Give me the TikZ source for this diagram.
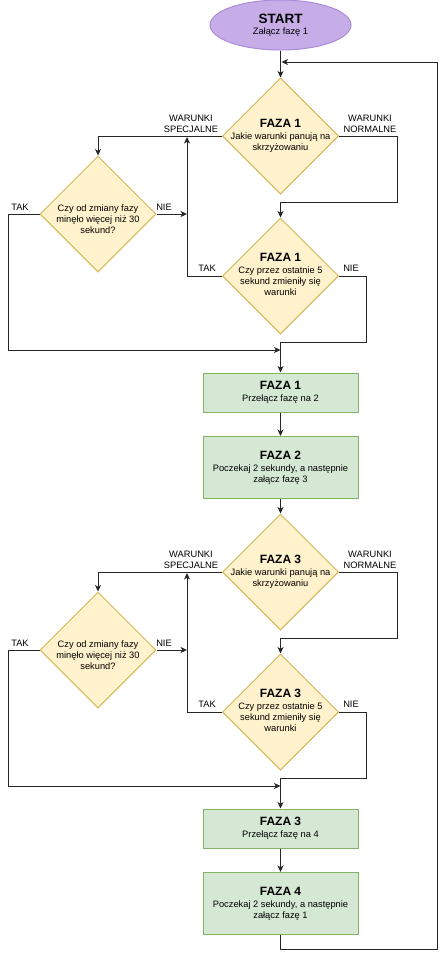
\documentclass[tikz,border=0pt]{standalone}
\usepackage{fontspec}
\setmainfont{Liberation Sans}
\usetikzlibrary{shapes.geometric,arrows.meta}
\definecolor{purfill}{HTML}{C6ADE8}
\definecolor{purline}{HTML}{A98BD9}
\definecolor{yelfill}{HTML}{FFF2CC}
\definecolor{yelline}{HTML}{D6B656}
\definecolor{grnfill}{HTML}{D5E8D4}
\definecolor{grnline}{HTML}{82B366}
\definecolor{ln}{HTML}{262626}
\newcommand\fztitle[1]{{\fontsize{12}{14}\selectfont\bfseries #1}}
\begin{document}
\begin{tikzpicture}[x=1pt,y=-1pt,
  every node/.style={font=\fontsize{9.3}{11}\selectfont,text=black},
  startnode/.style={ellipse,draw=purline,fill=purfill,line width=1pt,minimum width=141pt,minimum height=50pt,inner sep=0pt,align=center},
  dia/.style={diamond,draw=yelline,fill=yelfill,line width=1pt,minimum width=116pt,minimum height=116pt,inner sep=0pt},
  boxnode/.style={rectangle,draw=grnline,fill=grnfill,line width=1pt,minimum width=155pt,inner sep=0pt,align=center},
  txt/.style={align=center,inner sep=0pt},
  lbl/.style={align=center,inner sep=0pt},
  arr/.style={draw=ln,line width=1pt,-{Stealth[length=6.5pt,width=6pt,inset=1.8pt]}},
  ln/.style={draw=ln,line width=1pt}
]
\fill[white] (0,0) rectangle (443,956);
\useasboundingbox (0,0) rectangle (443,956);

% ---------- nodes ----------
\node[startnode] (s) at (280.5,25) {{\fontsize{13.5}{15}\selectfont\bfseries START}\\Załącz fazę 1};

\node[dia] (d1) at (280.5,136) {};
\node[txt] (t1) at (280.5,136) {\fztitle{FAZA 1}\\[1pt]Jakie warunki panują na\\skrzyżowaniu};
\node[dia] (d2) at (98,214) {};
\node[txt] (t2) at (98,219) {Czy od zmiany fazy\\minęło więcej niż 30\\sekund?};
\node[dia] (d3) at (280.5,276) {};
\node[txt] (t3) at (280.5,274) {\fztitle{FAZA 1}\\[1pt]Czy przez ostatnie 5\\sekund zmieniły się\\warunki};
\node[boxnode,minimum height=39pt] (r1) at (280.5,392.5) {\fztitle{FAZA 1}\\[1pt]Przełącz fazę na 2};
\node[boxnode,minimum height=62pt] (r2) at (280.5,467.5) {\fztitle{FAZA 2}\\[1pt]Poczekaj 2 sekundy, a następnie\\załącz fazę 3};

\node[dia] (d4) at (280.5,572) {};
\node[txt] (t4) at (280.5,572) {\fztitle{FAZA 3}\\[1pt]Jakie warunki panują na\\skrzyżowaniu};
\node[dia] (d5) at (98,650) {};
\node[txt] (t5) at (98,655) {Czy od zmiany fazy\\minęło więcej niż 30\\sekund?};
\node[dia] (d6) at (280.5,712) {};
\node[txt] (t6) at (280.5,710) {\fztitle{FAZA 3}\\[1pt]Czy przez ostatnie 5\\sekund zmieniły się\\warunki};
\node[boxnode,minimum height=39pt] (r3) at (280.5,828.5) {\fztitle{FAZA 3}\\[1pt]Przełącz fazę na 4};
\node[boxnode,minimum height=62pt] (r4) at (280.5,903.5) {\fztitle{FAZA 4}\\[1pt]Poczekaj 2 sekundy, a następnie\\załącz fazę 1};

% ---------- labels ----------
\node[lbl] (l1) at (191,124) {WARUNKI\\SPECJALNE};
\node[lbl] (l2) at (370,124) {WARUNKI\\NORMALNE};
\node[lbl] (l3) at (20,207) {TAK};
\node[lbl] (l4) at (164,207) {NIE};
\node[lbl] (l5) at (207,268) {TAK};
\node[lbl] (l6) at (351,268) {NIE};
\node[lbl] (l7) at (191,560) {WARUNKI\\SPECJALNE};
\node[lbl] (l8) at (370,560) {WARUNKI\\NORMALNE};
\node[lbl] (l9) at (20,643) {TAK};
\node[lbl] (l10) at (164,643) {NIE};
\node[lbl] (l11) at (207,704) {TAK};
\node[lbl] (l12) at (351,704) {NIE};

% ---------- coordinates ----------
\coordinate (j0) at (281.5,62);
\coordinate (lp1) at (437,949);
\coordinate (lp2) at (437,62);
\coordinate (c1) at (397,202);
\coordinate (c2) at (8,350);
\coordinate (m1) at (280.5,350);
\coordinate (m2) at (187,214);
\coordinate (m3) at (187,137);
\coordinate (c3) at (366,342);
\coordinate (c4) at (397,638);
\coordinate (c5) at (8,786);
\coordinate (m4) at (280.5,786);
\coordinate (m5) at (187,650);
\coordinate (m6) at (187,573);
\coordinate (c6) at (366,778);

% ---------- connectors ----------
\draw[arr] (s) -- (d1);
\draw[arr] (r4.south) |- (lp1) -- (lp2) -- (j0);

\draw[arr] (d1.west) -| (d2.north);
\draw[arr] (d1.east) -| (c1) -| (d3.north);
\draw[arr] (d2.west) -| (c2) -- (m1);
\draw[arr] (d2.east) -- (m2);
\draw[arr] (d3.west) -| (m3);
\draw[arr] (d3.east) -| (c3) -| (r1.north);
\draw[arr] (r1) -- (r2);
\draw[arr] (r2) -- (d4);

\draw[arr] (d4.west) -| (d5.north);
\draw[arr] (d4.east) -| (c4) -| (d6.north);
\draw[arr] (d5.west) -| (c5) -- (m4);
\draw[arr] (d5.east) -- (m5);
\draw[arr] (d6.west) -| (m6);
\draw[arr] (d6.east) -| (c6) -| (r3.north);
\draw[arr] (r3) -- (r4);
\end{tikzpicture}
\end{document}
